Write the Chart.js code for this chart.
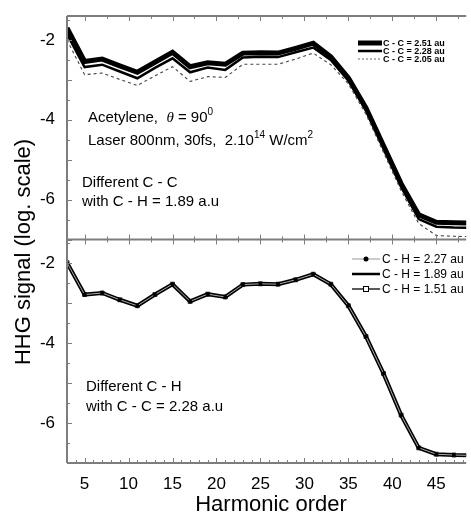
<!DOCTYPE html>
<html lang="en">
  <head>
    <meta charset="UTF-8" />
    <script src="https://cdn.jsdelivr.net/npm/chart.js@4.4.1/dist/chart.umd.min.js"></script>
    <title>HHG acetylene</title>
    <style>
      body { margin: 0; background: #fff; }
      canvas { display: block; }
    </style>
  </head>
  <body>
    <canvas id="hhg" width="471" height="512"></canvas>
    <script>
      // harmonic orders (odd)
      const harmonics = [3, 5, 7, 9, 11, 13, 15, 17, 19, 21, 23, 25, 27, 29, 31, 33, 35, 37, 39, 41, 43, 45, 47, 49];

      // top panel: different C - C, C - H = 1.89 a.u
      const cc251 = [-1.70, -2.54, -2.48, -2.65, -2.81, -2.56, -2.31, -2.67, -2.57, -2.61, -2.33, -2.32, -2.33, -2.21, -2.08, -2.42, -2.95, -3.70, -4.65, -5.60, -6.38, -6.57, -6.58, -6.59];
      const cc228 = [-1.85, -2.68, -2.62, -2.79, -2.96, -2.70, -2.46, -2.81, -2.69, -2.75, -2.44, -2.42, -2.43, -2.31, -2.19, -2.50, -3.02, -3.77, -4.72, -5.68, -6.49, -6.68, -6.70, -6.71];
      const cc205 = [-2.00, -2.87, -2.83, -2.99, -3.14, -2.90, -2.67, -3.04, -2.92, -2.94, -2.61, -2.61, -2.61, -2.48, -2.33, -2.62, -3.10, -3.86, -4.82, -5.78, -6.60, -6.90, -6.92, -6.93];

      // bottom panel: different C - H, C - C = 2.28 a.u
      const ch227 = [-1.98, -2.78, -2.74, -2.91, -3.06, -2.78, -2.52, -2.95, -2.77, -2.84, -2.53, -2.51, -2.52, -2.41, -2.27, -2.52, -3.06, -3.83, -4.76, -5.80, -6.62, -6.78, -6.80, -6.81];
      const ch189 = [-1.98, -2.78, -2.74, -2.91, -3.06, -2.78, -2.52, -2.95, -2.77, -2.84, -2.53, -2.51, -2.52, -2.41, -2.27, -2.52, -3.06, -3.83, -4.76, -5.80, -6.62, -6.78, -6.80, -6.81];
      const ch151 = [-1.98, -2.78, -2.74, -2.91, -3.06, -2.78, -2.52, -2.95, -2.77, -2.84, -2.53, -2.51, -2.52, -2.41, -2.27, -2.52, -3.06, -3.83, -4.76, -5.80, -6.62, -6.78, -6.80, -6.81];

      const xTickValues = [5, 10, 15, 20, 25, 30, 35, 40, 45];
      const yTickValues = [-6, -4, -2];

      const topLabels = ["C - C = 2.51 au", "C - C = 2.28 au", "C - C = 2.05 au"];
      const botLabels = ["C - H = 2.27 au", "C - H = 1.89 au", "C - H = 1.51 au"];

      const SANS = "'Liberation Sans', Arial, sans-serif";
      const AXIS = "#7d7d7d";

      function pts(ys) {
        return harmonics.map((h, i) => ({ x: h, y: ys[i] }));
      }

      function drawRich(ctx, x, y, parts) {
        for (const p of parts) {
          ctx.font = p.font;
          ctx.fillText(p.t, x, y - (p.dy || 0));
          x += ctx.measureText(p.t).width;
        }
      }

      const decor = {
        id: "decor",
        afterDatasetsDraw(chart) {
          const ctx = chart.ctx;
          const a = chart.chartArea;
          const xs = chart.scales.x;
          const yT = chart.scales.yTop;
          const yB = chart.scales.yBot;
          const mid = yT.bottom;
          ctx.save();

          // frame
          ctx.strokeStyle = AXIS;
          ctx.lineWidth = 2;
          ctx.beginPath();
          ctx.moveTo(a.left, a.top); ctx.lineTo(a.right, a.top);
          ctx.moveTo(a.left, mid); ctx.lineTo(a.right, mid);
          ctx.moveTo(a.left, a.bottom); ctx.lineTo(a.right, a.bottom);
          ctx.moveTo(a.left, a.top); ctx.lineTo(a.left, a.bottom);
          ctx.stroke();

          // x ticks (inward)
          ctx.lineWidth = 1;
          ctx.beginPath();
          for (let v = 5; v <= 48; v += 2.5) {
            const px = Math.round(xs.getPixelForValue(v)) + 0.5;
            const L = v % 5 === 0 ? 5 : 3;
            ctx.moveTo(px, a.top); ctx.lineTo(px, a.top + L);
            ctx.moveTo(px, mid - L); ctx.lineTo(px, mid + L);
          }
          for (let v = 3; v <= 48; v += 1) {
            const px = Math.round(xs.getPixelForValue(v)) + 0.5;
            const L = v % 5 === 0 ? 5 : 3;
            ctx.moveTo(px, a.bottom); ctx.lineTo(px, a.bottom - L);
          }
          // y ticks (inward)
          for (const s of [yT, yB]) {
            for (let v = -7; v <= -1.5; v += 0.5) {
              const py = Math.round(s.getPixelForValue(v)) + 0.5;
              const L = v % 1 === 0 ? 5 : 3;
              ctx.moveTo(a.left, py); ctx.lineTo(a.left + L, py);
            }
          }
          ctx.stroke();

          // axis titles
          ctx.fillStyle = "#000";
          ctx.font = "22px " + SANS;
          ctx.textAlign = "center";
          ctx.textBaseline = "alphabetic";
          ctx.fillText("Harmonic order", 271, 511);
          ctx.save();
          ctx.translate(30, 252);
          ctx.rotate(-Math.PI / 2);
          ctx.fillText("HHG signal (log. scale)", 0, 0);
          ctx.restore();

          // annotations
          ctx.textAlign = "left";
          const f15 = "15px " + SANS;
          const sup = "10px " + SANS;
          drawRich(ctx, 88, 122, [
            { t: "Acetylene,  ", font: f15 },
            { t: "\u03b8", font: "italic 15px 'Liberation Serif', serif" },
            { t: " = 90", font: f15 },
            { t: "0", font: sup, dy: 7 }
          ]);
          drawRich(ctx, 88, 145, [
            { t: "Laser 800nm, 30fs,  2.10", font: f15 },
            { t: "14", font: sup, dy: 7 },
            { t: " W/cm", font: f15 },
            { t: "2", font: sup, dy: 7 }
          ]);
          ctx.font = f15;
          ctx.fillText("Different C - C", 82, 187);
          ctx.fillText("with C - H = 1.89 a.u", 82, 206);
          ctx.fillText("Different C - H", 86, 391);
          ctx.fillText("with C - C = 2.28 a.u", 86, 411);

          // top legend
          ctx.textBaseline = "middle";
          const topRows = [43, 51, 59];
          const topStyles = [
            { w: 5, c: "#000", d: [] },
            { w: 2.5, c: "#000", d: [] },
            { w: 1, c: "#666", d: [2, 2] }
          ];
          ctx.font = "bold 9px 'Liberation Sans Narrow', 'Liberation Sans', sans-serif";
          topLabels.forEach((lab, i) => {
            const st = topStyles[i];
            ctx.strokeStyle = st.c;
            ctx.lineWidth = st.w;
            ctx.setLineDash(st.d);
            ctx.beginPath();
            ctx.moveTo(358, topRows[i]); ctx.lineTo(382, topRows[i]);
            ctx.stroke();
            ctx.setLineDash([]);
            ctx.fillText(lab, 383, topRows[i] + 0.5);
          });

          // bottom legend
          const botRows = [259, 274, 289];
          ctx.font = "12px " + SANS;
          botLabels.forEach((lab, i) => {
            const y = botRows[i];
            ctx.beginPath();
            ctx.moveTo(352, y); ctx.lineTo(380, y);
            if (i === 0) { ctx.strokeStyle = "#aaa"; ctx.lineWidth = 1.2; }
            if (i === 1) { ctx.strokeStyle = "#000"; ctx.lineWidth = 2.5; }
            if (i === 2) { ctx.strokeStyle = "#000"; ctx.lineWidth = 1.3; }
            ctx.stroke();
            if (i === 0) {
              ctx.fillStyle = "#000";
              ctx.beginPath();
              ctx.arc(366, y, 2.5, 0, Math.PI * 2);
              ctx.fill();
            }
            if (i === 2) {
              ctx.fillStyle = "#fff";
              ctx.strokeStyle = "#000";
              ctx.lineWidth = 1;
              ctx.fillRect(363.5, y - 2.5, 5, 5);
              ctx.strokeRect(363.5, y - 2.5, 5, 5);
            }
            ctx.fillStyle = "#000";
            ctx.fillText(lab, 382, y + 0.5);
          });

          ctx.restore();
        }
      };

      function yScale() {
        return {
          type: "linear",
          position: "left",
          stack: "hhg",
          stackWeight: 1,
          min: -7,
          max: -1.4,
          afterBuildTicks: (s) => { s.ticks = yTickValues.map((v) => ({ value: v })); },
          afterFit: (s) => { s.width = 67; },
          ticks: { font: { size: 17, family: SANS }, color: "#000", padding: 4 },
          grid: { display: false },
          border: { display: false }
        };
      }

      new Chart(document.getElementById("hhg"), {
        type: "line",
        data: {
          datasets: [
            { label: "C - C = 2.05 au", data: pts(cc205), yAxisID: "yTop", borderColor: "#444", borderWidth: 1.1, borderDash: [3, 3], pointRadius: 0, tension: 0 },
            { label: "C - C = 2.28 au", data: pts(cc228), yAxisID: "yTop", borderColor: "#000", borderWidth: 2.5, pointRadius: 0, tension: 0 },
            { label: "C - C = 2.51 au", data: pts(cc251), yAxisID: "yTop", borderColor: "#000", borderWidth: 5, pointRadius: 0, tension: 0 },
            { label: "C - H = 2.27 au", data: pts(ch227), yAxisID: "yBot", borderColor: "#aaa", borderWidth: 1, pointRadius: 2, pointBackgroundColor: "#000", pointBorderWidth: 0, tension: 0 },
            { label: "C - H = 1.89 au", data: pts(ch189), yAxisID: "yBot", borderColor: "#000", borderWidth: 4, pointRadius: 0, tension: 0 },
            { label: "C - H = 1.51 au", data: pts(ch151), yAxisID: "yBot", borderColor: "#000", borderWidth: 1.5, pointStyle: "rect", pointRadius: 2.8, pointBackgroundColor: "#fff", pointBorderColor: "#000", pointBorderWidth: 0.8, tension: 0 }
          ]
        },
        options: {
          responsive: false,
          animation: false,
          devicePixelRatio: 1,
          layout: { padding: { top: 16, right: 0, left: 0, bottom: 0 } },
          plugins: { legend: { display: false }, tooltip: { enabled: false } },
          scales: {
            x: {
              type: "linear",
              min: 3,
              max: 48.4,
              afterBuildTicks: (s) => { s.ticks = xTickValues.map((v) => ({ value: v })); },
              afterFit: (s) => { s.height = 49; },
              ticks: { font: { size: 17, family: SANS }, color: "#000", padding: 3, maxRotation: 0 },
              grid: { display: false },
              border: { display: false }
            },
            yBot: yScale(),
            yTop: yScale()
          }
        },
        plugins: [decor]
      });
    </script>
  </body>
</html>
